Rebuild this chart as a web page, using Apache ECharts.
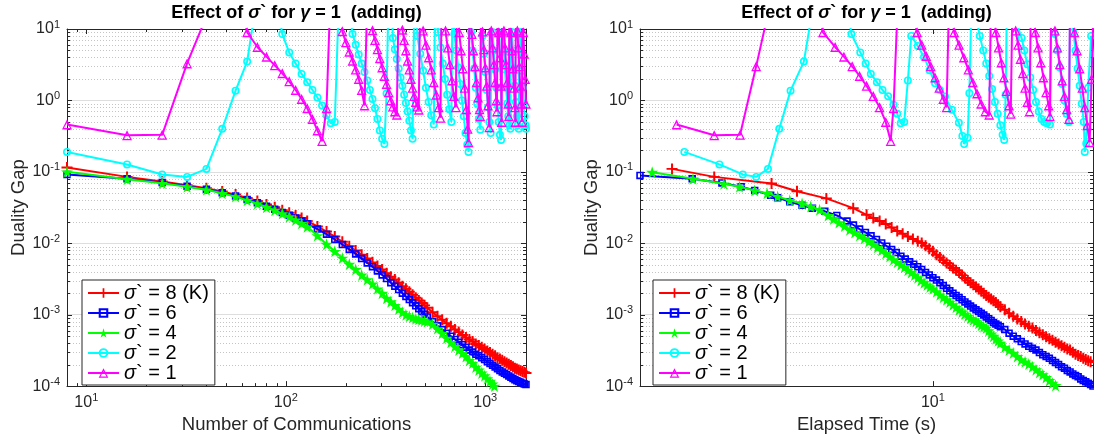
<!DOCTYPE html>
<html><head><meta charset="utf-8">
<script src="https://cdn.jsdelivr.net/npm/echarts@6/dist/echarts.min.js"></script>
<style>html,body{margin:0;padding:0;background:#fff}#c{width:1094px;height:439px}</style>
</head><body><div id="c"></div><script>
// ---------------- data ----------------
const seriesNames = ['σ` = 8 (K)', 'σ` = 6', 'σ` = 4', 'σ` = 2', 'σ` = 1'];
const titleText = '{b|Effect of }{i|σ}{b|` for }{i|γ}{b| = 1  (adding)}';
const xNameLeft = 'Number of Communications';
const xNameRight = 'Elapsed Time (s)';
const yName = 'Duality Gap';

const commsRange = [8, 1600];
const timeRange = [1.3, 30.5];
const gapRange = [1e-4, 10];

const yMajorTicks = [1e-4, 1e-3, 1e-2, 1e-1, 1, 10];
const yMinorTicks = [2e-4,3e-4,4e-4,5e-4,6e-4,7e-4,8e-4,9e-4,
  2e-3,3e-3,4e-3,5e-3,6e-3,7e-3,8e-3,9e-3,
  0.02,0.03,0.04,0.05,0.06,0.07,0.08,0.09,
  0.2,0.3,0.4,0.5,0.6,0.7,0.8,0.9,
  2,3,4,5,6,7,8,9];
const xMajorTicksLeft = [10, 100, 1000];
const xMinorTicksLeft = [9,20,30,40,50,60,70,80,90,200,300,400,500,600,700,800,900];
const xMajorTicksRight = [10];

// left plot: duality gap vs number of communications
const commsSteps = [8,16,24,32,40,48,56,64,72,80,88,96,104,112,120,128,
  144,160,176,192,208,224,240,256,272,288,304,320,336,352,368,384,400,416,432,448,464,480,496,512,
  544,576,608,640,672,704,736,768,800,832,864,896,928,960,992,1024,
  1056,1088,1120,1152,1184,1216,1248,1280,1312,1344,1376,1408,1440,1472,1504,1536,1568,1600];
const gapRedVsComms = [0.115,0.085,0.073,0.065,0.059,0.053,0.048,0.043,0.039,0.035,0.032,0.029,0.0267,0.0245,0.0225,0.0205,
  0.0172,0.0146,0.0124,0.0105,0.0091,0.0079,0.0069,0.0061,0.0054,0.0048,0.0043,0.0038,0.0034,0.0031,0.0028,0.0025,0.0023,0.0021,0.0019,0.00172,0.00158,0.00146,0.00135,0.00125,
  0.00108,0.00095,0.00085,0.00076,0.00069,0.00062,0.00057,0.00052,0.00048,0.00045,0.00042,0.00039,0.00037,0.00035,0.00033,0.00031,
  0.000295,0.00028,0.000265,0.00025,0.00024,0.00023,0.00022,0.00021,0.000202,0.000194,0.000186,0.000178,0.000173,0.000168,0.000164,0.00016,0.000156,0.000152];
const gapBlueVsComms = [0.092,0.080,0.071,0.063,0.057,0.051,0.046,0.041,0.037,0.033,0.030,0.027,0.0246,0.0225,0.0205,0.0188,
  0.0158,0.0134,0.0113,0.0096,0.0082,0.0071,0.0061,0.0053,0.0047,0.0041,0.0036,0.0032,0.0028,0.0025,0.00225,0.0020,0.0018,0.00163,0.00147,0.00133,0.00121,0.00111,0.00101,0.00093,
  0.00080,0.00070,0.00062,0.00055,0.00050,0.00045,0.00041,0.00038,0.00035,0.00032,0.00030,0.00028,0.000265,0.00025,0.000235,0.00022,
  0.000208,0.000196,0.000185,0.000175,0.000166,0.000158,0.000151,0.000145,0.000139,0.000133,0.000128,0.000123,0.000119,0.000116,0.000113,0.00011,0.000107,0.000105];
const commsGreen = [8,16,24,32,40,48,56,64,72,80,88,96,104,112,120,128,
  144,160,176,192,208,224,240,256,272,288,304,320,336,352,368,384,400,416,432,448,464,480,496,512,
  544,576,608,640,672,704,736,768,800,832,864,896,928,960,992,1024,
  1056,1088,1112];
const gapGreenVsComms = [0.100,0.079,0.069,0.062,0.056,0.050,0.045,0.040,0.036,0.032,0.029,0.026,0.0235,0.0212,0.019,0.0170,
  0.0128,0.0097,0.0077,0.0062,0.0051,0.0043,0.0036,0.0031,0.0027,0.0023,0.0020,0.0017,0.00152,0.00135,0.0012,0.00108,0.001,0.00095,0.00091,0.00088,0.00086,0.00084,0.00082,0.00080,
  0.00074,0.00064,0.00055,0.00047,0.00041,0.00036,0.00032,0.00029,0.00026,0.00023,0.00021,0.000185,0.000168,0.000153,0.00014,0.000127,
  0.000117,0.000107,0.0001];
const cyanVsComms = [[8,0.19],[16,0.127],[24,0.092],[32,0.085],[40,0.11],[48,0.40],[56,1.37],[64,3.5],[72,30],[80,150],[88,40],
  [96,8.5],[104,4.7],[112,3.3],[120,2.35],[128,1.8],[136,1.4],[144,1.1],[152,0.85],[160,0.62],[168,0.48],[176,0.5],[184,20],[192,80],[200,60],[208,20],
  [216,8.5],[224,6.0],[232,4.4],[240,3.3],[248,2.5],[256,1.9],[264,1.4],[272,1.05],[280,0.78],[288,0.55],[296,0.38],[304,0.29],[312,0.245],[320,1.25],[328,40],[336,60],
  [344,7.5],[352,5.2],[360,3.8],[368,2.8],[376,2.1],[384,1.6],[392,1.2],[400,0.92],[408,0.7],[416,0.52],[424,0.38],[432,0.29],[440,20],[448,60],
  [456,8.0],[472,4.5],[488,2.6],[504,1.5],[520,0.95],[536,0.62],[552,0.46],[560,30],
  [580,9.0],[596,5.5],[612,3.3],[628,2.0],[644,1.2],[660,0.75],[676,0.5],[684,25],
  [700,8.5],[716,5.0],[732,2.9],[748,1.7],[764,1.0],[780,0.6],[796,0.35],[812,0.24],[824,0.19],[832,30],
  [848,9.0],[864,5.0],[880,2.8],[896,1.5],[912,0.9],[928,0.55],[944,0.39],[952,20],
  [968,8.0],[984,4.5],[1000,2.5],[1016,1.4],[1032,0.8],[1048,0.5],[1064,0.35],[1072,25],
  [1088,9.0],[1104,5.0],[1120,2.7],[1136,1.5],[1152,0.85],[1168,0.5],[1184,0.33],[1200,0.28],[1208,20],
  [1224,8.5],[1240,4.8],[1256,2.7],[1272,1.5],[1288,0.9],[1304,0.6],[1320,0.45],[1336,0.4],[1344,25],
  [1360,9.0],[1376,5.0],[1392,2.8],[1408,1.6],[1424,0.95],[1440,0.6],[1456,0.45],[1472,0.4],[1480,20],
  [1496,8.5],[1512,4.8],[1528,2.6],[1544,1.5],[1560,0.9],[1576,0.6],[1592,0.45],[1600,0.4]];
const magentaVsComms = [[8,0.46],[16,0.325],[24,0.33],[32,3.3],[40,15],[48,120],[56,60],
  [64,9.0],[72,5.6],[80,4.1],[88,3.1],[96,2.4],[104,1.85],[112,1.4],[120,1.05],[128,0.78],[136,0.55],[144,0.38],[152,0.27],[160,0.78],[168,40],[176,80],[184,30],
  [192,9.3],[200,6.5],[208,4.8],[216,3.6],[224,2.7],[232,2.0],[240,1.4],[248,0.85],[256,25],[264,60],
  [272,9.6],[280,7.0],[288,5.2],[296,3.9],[304,2.9],[312,2.2],[320,1.7],[328,1.3],[336,1.0],[344,0.82],[352,0.7],[360,0.63],[368,30],[376,50],
  [384,9.8],[392,7.0],[400,5.0],[408,3.6],[416,2.7],[424,2.0],[432,1.5],[440,1.15],[448,0.95],[456,0.82],[464,0.74],[472,40],[480,60],
  [488,9.5],[504,6.0],[520,4.0],[536,2.7],[552,1.8],[568,1.2],[584,0.8],[596,0.57],[604,30],[616,50],
  [632,9.5],[648,5.5],[664,3.2],[680,1.9],[696,1.15],[712,0.8],[720,30],
  [740,9.0],[756,5.0],[772,2.8],[788,1.5],[804,0.75],[816,0.4],[824,0.26],[832,20],
  [856,8.5],[872,5.0],[888,3.0],[904,1.8],[920,1.1],[936,0.75],[944,0.6],[952,25],
  [968,9.2],[984,5.2],[1000,2.9],[1016,1.6],[1032,0.85],[1047,0.42],[1056,30],
  [1072,9.5],[1088,5.5],[1104,3.2],[1120,1.8],[1136,1.0],[1144,0.7],[1152,25],
  [1168,9.0],[1184,4.0],[1200,1.6],[1208,0.5],[1216,30],
  [1240,9.5],[1256,5.5],[1272,3.2],[1288,1.8],[1304,0.9],[1312,0.6],[1320,25],
  [1344,9.0],[1360,5.0],[1376,2.8],[1392,1.5],[1408,0.8],[1416,0.5],[1424,30],
  [1448,9.5],[1464,5.5],[1480,3.0],[1496,1.6],[1512,0.9],[1528,0.5],[1536,25],
  [1552,9.0],[1568,4.5],[1584,2.0],[1600,0.9]];

// right plot: duality gap vs elapsed time (s)
const redVsTime = [[1.625,0.110],[2.18,0.085],[3.25,0.0685],[3.88,0.0536],[4.76,0.0425],[5.74,0.031],[6.3,0.025],[6.6,0.0225],[6.9,0.0205],[7.2,0.0186],[7.5,0.0166],[7.8,0.0149],[8.1,0.0136],[8.4,0.0124],[8.7,0.0115],[9.0,0.0107],[9.25,0.0101],[9.5,0.0092],[9.75,0.0084],[10.0,0.0077],[10.25,0.0069],[10.5,0.0063],[10.75,0.0058],[11.0,0.0053],[11.25,0.0049],[11.5,0.0045],[11.75,0.0042],[12.0,0.0039],[12.25,0.00358],[12.5,0.00327],[12.75,0.00302],[13.0,0.0028],[13.25,0.00262],[13.5,0.00245],[13.75,0.00229],[14.0,0.00214],[14.25,0.002],[14.5,0.00186],[14.75,0.00176],[15.0,0.00166],[15.25,0.00157],[15.5,0.00148],[15.75,0.00138],[16.0,0.00129],[16.5,0.00117],[17.0,0.00105],[17.5,0.00095],[18.0,0.00087],[18.5,0.00080],[19.0,0.00074],[19.5,0.00069],[20.0,0.00065],[20.5,0.0006],[21,0.00056],[21.5,0.000525],[22,0.00049],[22.5,0.000462],[23,0.00044],[23.5,0.000412],[24,0.00039],[24.5,0.000367],[25,0.00035],[25.5,0.000331],[26,0.00032],[26.5,0.000299],[27,0.00028],[27.5,0.000269],[28,0.00026],[28.5,0.000245],[29,0.000235],[29.5,0.000226],[30,0.00022],[31,0.000212]];
const blueVsTime = [[1.3,0.089],[1.87,0.080],[2.30,0.070],[2.63,0.062],[2.89,0.055],[3.23,0.047],[3.39,0.0435],[3.69,0.038],[4.02,0.034],[4.32,0.031],[4.71,0.028],[5.12,0.0245],[5.5,0.0205],[5.75,0.018],[6.0,0.0158],[6.25,0.0142],[6.5,0.0127],[6.75,0.0113],[7.0,0.0101],[7.25,0.0091],[7.5,0.0082],[7.75,0.0074],[8.0,0.0066],[8.25,0.006],[8.5,0.0055],[8.75,0.0051],[9.0,0.0047],[9.25,0.0043],[9.5,0.0039],[9.75,0.0036],[10,0.0033],[10.25,0.00305],[10.5,0.0028],[10.75,0.00256],[11,0.00234],[11.25,0.00216],[11.5,0.0020],[11.75,0.00186],[12,0.00174],[12.25,0.00162],[12.5,0.00151],[12.75,0.00141],[13,0.00132],[13.25,0.00124],[13.5,0.00117],[13.75,0.00111],[14,0.00105],[14.25,0.00099],[14.5,0.00093],[14.75,0.00088],[15,0.00083],[15.25,0.00078],[15.5,0.00074],[15.75,0.00071],[16,0.00068],[16.5,0.00062],[17,0.00055],[17.5,0.0005],[18,0.00046],[18.5,0.00042],[19,0.00039],[19.5,0.00036],[20,0.00034],[20.5,0.00032],[21,0.000295],[21.5,0.000275],[22,0.00026],[22.5,0.000245],[23,0.000229],[23.5,0.000214],[24,0.0002],[24.5,0.000186],[25,0.000178],[25.5,0.000166],[26,0.000158],[26.5,0.000148],[27,0.000141],[27.5,0.000135],[28,0.000126],[28.5,0.00012],[29,0.000115],[29.5,0.00011],[30,0.000105],[30.5,0.0001]];
const greenVsTime = [[1.415,0.099],[1.88,0.080],[2.33,0.068],[2.60,0.062],[2.89,0.055],[3.15,0.050],[3.39,0.045],[3.69,0.040],[4.02,0.036],[4.27,0.0326],[4.54,0.0294],[4.82,0.0245],[5.0,0.0218],[5.2,0.0195],[5.4,0.0174],[5.6,0.0155],[5.8,0.0141],[6.0,0.0128],[6.2,0.0117],[6.4,0.0106],[6.6,0.0097],[6.8,0.0088],[7.0,0.008],[7.2,0.0072],[7.4,0.0065],[7.6,0.0059],[7.8,0.0054],[8.0,0.0050],[8.2,0.0046],[8.4,0.0042],[8.6,0.0039],[8.8,0.0036],[9.0,0.0033],[9.2,0.0030],[9.4,0.0028],[9.6,0.0026],[9.8,0.00245],[10,0.0023],[10.25,0.0021],[10.5,0.0019],[10.75,0.00175],[11,0.00162],[11.25,0.0015],[11.5,0.00138],[11.75,0.00127],[12,0.00117],[12.25,0.00109],[12.5,0.00102],[12.75,0.00095],[13,0.00089],[13.25,0.00085],[13.5,0.00081],[13.75,0.00076],[14,0.00071],[14.25,0.00068],[14.5,0.00065],[14.75,0.0006],[15,0.00054],[15.25,0.0005],[15.5,0.00046],[15.75,0.00043],[16,0.0004],[16.5,0.00035],[17,0.00032],[17.5,0.00029],[18,0.00026],[18.5,0.000234],[19,0.000219],[19.5,0.000204],[20,0.000186],[20.5,0.00017],[21,0.000155],[21.5,0.000145],[22,0.000132],[22.5,0.00012],[23,0.00011],[23.5,0.000102]];
const cyanVsTime = [[1.77,0.19],[2.26,0.127],[2.66,0.092],[2.92,0.085],[3.17,0.11],[3.43,0.40],[3.71,1.37],[4.07,3.5],[4.4,30],[4.9,150],[5.4,40],
  [5.67,8.5],[6.03,4.7],[6.26,3.3],[6.49,2.35],[6.77,1.8],[7.04,1.4],[7.32,1.14],[7.6,0.87],[7.8,0.65],[7.99,0.48],[8.19,0.5],[8.4,1.9],
  [8.6,8.0],[9.0,5.8],[9.4,4.06],[9.77,2.65],[10.15,1.74],[10.5,1.4],[10.88,1.135],[11.41,0.74],[11.98,0.487],[12.28,0.318],[12.43,0.245],[12.73,0.3],[12.89,1.26],[13.1,30],
  [13.86,8.0],[14.2,5.0],[14.5,3.3],[14.8,2.2],[15.1,1.45],[15.4,0.95],[15.7,0.65],[16.0,0.45],[16.25,0.33],[16.43,0.28],[16.6,1.2],[16.75,30],
  [18.55,7.5],[18.9,5.0],[19.3,3.2],[19.7,2.1],[20.1,1.4],[20.5,0.95],[20.9,0.7],[21.3,0.55],[21.7,0.5],[22.1,0.48],[22.6,0.46],[22.8,25],
  [23.4,8.5],[23.8,5.0],[24.2,2.9],[24.6,1.7],[25.0,1.0],[25.4,0.65],[25.8,0.5],[26.0,20],
  [26.6,9.0],[27.0,5.0],[27.4,2.8],[27.8,1.6],[28.2,0.9],[28.6,0.5],[28.8,0.19],[29.1,0.25],[29.5,1.5],[30.1,8],[30.6,4]];
const magentaVsTime = [[1.677,0.46],[2.18,0.325],[2.61,0.33],[2.92,3.0],[3.2,20],[3.6,100],[4.2,60],[4.5,20],
  [4.65,9.0],[5.06,5.6],[5.38,4.1],[5.7,3.0],[6.0,2.2],[6.3,1.6],[6.6,1.15],[6.9,0.8],[7.2,0.5],[7.45,0.27],[7.6,0.78],[7.85,30],[8.3,40],
  [8.96,9.0],[9.25,6.0],[9.55,4.2],[9.85,3.0],[10.15,2.1],[10.45,1.5],[10.75,1.05],[11.0,0.8],[11.2,30],
  [11.6,9.0],[12.0,6.0],[12.4,4.0],[12.8,2.7],[13.2,1.8],[13.6,1.25],[14.0,0.9],[14.4,0.7],[14.8,0.63],[15.0,30],
  [15.5,9.0],[15.8,5.5],[16.1,3.4],[16.4,2.1],[16.7,1.35],[17.0,0.85],[17.2,0.65],[17.4,25],
  [17.8,9.5],[18.1,6.0],[18.4,3.8],[18.7,2.4],[19.0,1.5],[19.3,0.95],[19.6,0.7],[19.8,30],
  [20.4,9.0],[20.8,5.5],[21.2,3.4],[21.6,2.1],[22.0,1.3],[22.4,0.85],[22.6,0.6],[22.8,25],
  [23.4,9.5],[23.8,5.5],[24.2,3.2],[24.6,1.9],[25.0,1.15],[25.4,0.75],[25.8,0.55],[26.0,30],
  [26.8,9.0],[27.3,5.0],[27.8,2.8],[28.3,1.5],[28.8,0.8],[29.3,0.45],[29.8,0.26],[30.2,2.0],[30.6,20]];

// ---------------- styling ----------------
const FONT = '"Liberation Sans", Arial, Helvetica, sans-serif';
const AXIS_COLOR = '#262626';
const MAJOR_GRID = '#dedede';
const MINOR_GRID = '#c4c4c4';
const PLUS = 'path://M4.1 0H5.9V4.1H10V5.9H5.9V10H4.1V5.9H0V4.1H4.1Z';
const SQUARE_RING = 'path://M0 0H10V10H0Z M2.2 2.2V7.8H7.8V2.2Z';
const STAR = 'path://M50 0L61 35L98 35L68 57L79 91L50 70L21 91L32 57L2 35L39 35Z';
const CIRCLE_RING = 'path://M5 0A5 5 0 1 1 5 10A5 5 0 1 1 5 0Z M5 2A3 3 0 1 0 5 8A3 3 0 1 0 5 2Z';
const TRI_RING = 'path://M5 0L10 10H0Z M5 3.2L1.9 8.6H8.1Z';
const STYLES = [
  {color: '#ff0000', symbol: PLUS, size: 11},
  {color: '#0000ff', symbol: SQUARE_RING, size: 7.5},
  {color: '#00ff00', symbol: STAR, size: 12},
  {color: '#00ffff', symbol: CIRCLE_RING, size: 8},
  {color: '#ff00ff', symbol: TRI_RING, size: 10}
];

const zip = (xs, ys) => ys.map((y, i) => [xs[i], y]);
const leftData = [zip(commsSteps, gapRedVsComms), zip(commsSteps, gapBlueVsComms), zip(commsGreen, gapGreenVsComms), cyanVsComms, magentaVsComms];
const rightData = [redVsTime, blueVsTime, greenVsTime, cyanVsTime, magentaVsTime];

function powLabel(v) {
  const e = Math.log10(v);
  const r = Math.round(e);
  if (Math.abs(e - r) > 1e-6) return '';
  return '{b|10}{s|' + r + '}';
}
const tickRich = {
  b: {fontSize: 16, lineHeight: 20, fontFamily: FONT, color: AXIS_COLOR},
  s: {fontSize: 11, lineHeight: 9, verticalAlign: 'top', fontFamily: FONT, color: AXIS_COLOR}
};

function mainX(grid, range, name) {
  return {gridIndex: grid, type: 'log', logBase: 10, min: range[0], max: range[1], position: 'bottom',
    axisLine: {show: true, lineStyle: {color: AXIS_COLOR, width: 1}}, axisTick: {show: false},
    splitLine: {show: false}, minorTick: {show: false},
    axisLabel: {formatter: powLabel, margin: 6, rich: tickRich, showMinLabel: false, showMaxLabel: false},
    name: name, nameLocation: 'middle', nameGap: 27,
    nameTextStyle: {fontSize: 18.5, fontFamily: FONT, color: AXIS_COLOR}};
}
function boxX(grid, range) {
  return {gridIndex: grid, type: 'log', min: range[0], max: range[1], position: 'top',
    axisLine: {show: true, lineStyle: {color: AXIS_COLOR, width: 1}}, axisTick: {show: false},
    axisLabel: {show: false}, splitLine: {show: false}};
}
function mainY(grid) {
  return {gridIndex: grid, type: 'log', logBase: 10, min: gapRange[0], max: gapRange[1], position: 'left',
    axisLine: {show: true, lineStyle: {color: AXIS_COLOR, width: 1}}, axisTick: {show: false},
    splitLine: {show: true, lineStyle: {color: MAJOR_GRID, width: 1}},
    axisLabel: {formatter: powLabel, margin: 7, rich: tickRich},
    name: yName, nameLocation: 'middle', nameGap: 39, nameRotate: 90,
    nameTextStyle: {fontSize: 18.5, fontFamily: FONT, color: AXIS_COLOR}};
}
function boxY(grid) {
  return {gridIndex: grid, type: 'log', min: gapRange[0], max: gapRange[1], position: 'right',
    axisLine: {show: true, lineStyle: {color: AXIS_COLOR, width: 1}}, axisTick: {show: false},
    axisLabel: {show: false}, splitLine: {show: false}};
}

function yTickSeries(xi, yi, xRef) {
  const data = yMajorTicks.map(v => [xRef, v, 1]).concat(yMinorTicks.map(v => [xRef, v, 0]));
  return {type: 'custom', xAxisIndex: xi, yAxisIndex: yi, silent: true, z: 1, animation: false, data: data,
    renderItem: function (params, api) {
      const cs = params.coordSys;
      const y = Math.round(api.coord([api.value(0), api.value(1)])[1]) + 0.5;
      const major = api.value(2) === 1;
      const len = major ? 5 : 3;
      const st = {stroke: AXIS_COLOR, lineWidth: 1};
      const kids = [];
      if (!major) kids.push({type: 'line', shape: {x1: cs.x, y1: y, x2: cs.x + cs.width, y2: y}, style: {stroke: MINOR_GRID, lineWidth: 1, lineDash: [1, 2]}});
      kids.push({type: 'line', shape: {x1: cs.x, y1: y, x2: cs.x + len, y2: y}, style: st});
      kids.push({type: 'line', shape: {x1: cs.x + cs.width - len, y1: y, x2: cs.x + cs.width, y2: y}, style: st});
      return {type: 'group', children: kids};
    }};
}
function xTickSeries(xi, yi, majors, minors) {
  const data = majors.map(v => [v, gapRange[0], 1]).concat(minors.map(v => [v, gapRange[0], 0]));
  return {type: 'custom', xAxisIndex: xi, yAxisIndex: yi, silent: true, z: 1, animation: false, data: data,
    renderItem: function (params, api) {
      const cs = params.coordSys;
      const x = Math.round(api.coord([api.value(0), api.value(1)])[0]) + 0.5;
      const len = api.value(2) === 1 ? 5 : 3;
      const st = {stroke: AXIS_COLOR, lineWidth: 1};
      return {type: 'group', children: [
        {type: 'line', shape: {x1: x, y1: cs.y + cs.height, x2: x, y2: cs.y + cs.height - len}, style: st},
        {type: 'line', shape: {x1: x, y1: cs.y, x2: x, y2: cs.y + len}, style: st}
      ]};
    }};
}

function lineSeries(k, data, xi, yi) {
  const s = STYLES[k];
  return {type: 'line', name: seriesNames[k], data: data, xAxisIndex: xi, yAxisIndex: yi,
    symbol: s.symbol, symbolSize: s.size, showSymbol: true, showAllSymbol: true, clip: true,
    lineStyle: {width: 2, color: s.color}, itemStyle: {color: s.color, borderWidth: 0},
    emphasis: {disabled: true}, animation: false, z: 3 + k};
}

const titleRich = {
  b: {fontSize: 18, fontWeight: 'bold', fontFamily: FONT, color: '#000'},
  i: {fontSize: 18, fontStyle: 'italic', fontFamily: FONT, color: '#000'}
};
function makeTitle(cx) {
  return {text: titleText, left: cx, top: 4, textAlign: 'center', padding: 0,
    textStyle: {fontSize: 18, fontWeight: 'bold', fontFamily: FONT, color: '#000', rich: titleRich}};
}
function makeLegend(left) {
  return {data: seriesNames, orient: 'vertical', left: left, top: 280, itemWidth: 31, itemHeight: 12,
    itemGap: 0, itemTextGap: 2, padding: [3, 6, 2, 5], selectedMode: false,
    borderColor: AXIS_COLOR, borderWidth: 1, backgroundColor: '#fff',
    formatter: n => n.replace('σ', '{i|σ}'),
    textStyle: {fontSize: 20, lineHeight: 18.25, fontFamily: FONT, color: '#000',
      rich: {i: {fontSize: 20, lineHeight: 18.25, fontStyle: 'italic', fontFamily: FONT, color: '#000'}}}};
}

const series = [
  yTickSeries(0, 0, commsRange[0]),
  xTickSeries(0, 0, xMajorTicksLeft, xMinorTicksLeft),
  yTickSeries(2, 2, timeRange[0]),
  xTickSeries(2, 2, xMajorTicksRight, [])
];
leftData.forEach((d, k) => series.push(lineSeries(k, d, 0, 0)));
rightData.forEach((d, k) => series.push(lineSeries(k, d, 2, 2)));

const option = {
  backgroundColor: '#fff',
  animation: false,
  title: [makeTitle(296.5), makeTitle(866.5)],
  legend: [makeLegend(82), makeLegend(653)],
  grid: [
    {left: 67, top: 29, width: 459, height: 362},
    {left: 640, top: 29, width: 453, height: 362}
  ],
  xAxis: [mainX(0, commsRange, xNameLeft), boxX(0, commsRange), mainX(1, timeRange, xNameRight), boxX(1, timeRange)],
  yAxis: [mainY(0), boxY(0), mainY(1), boxY(1)],
  series: series
};
const chart = echarts.init(document.getElementById('c'), null, {renderer: 'canvas', width: 1094, height: 439});
chart.setOption(option);
</script></body></html>
